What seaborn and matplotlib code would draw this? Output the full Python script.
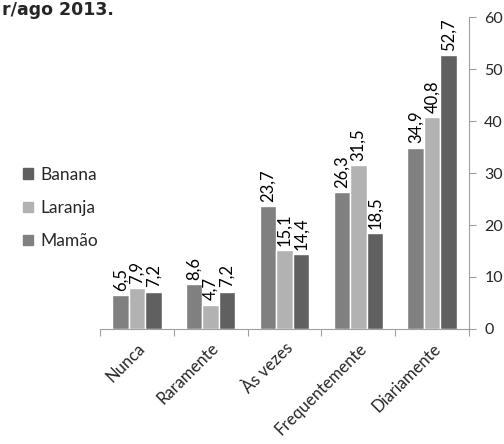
import matplotlib
matplotlib.use("Agg")
import matplotlib.pyplot as plt
import seaborn as sns
import pandas as pd
from matplotlib.ticker import FixedLocator

categories = ["Nunca", "Raramente", "Às vezes", "Frequentemente", "Diariamente"]
mamao = [6.5, 8.6, 23.7, 26.3, 34.9]
laranja = [7.9, 4.7, 15.1, 31.5, 40.8]
banana = [7.2, 7.2, 14.4, 18.5, 52.7]
series_names = ["Mamão", "Laranja", "Banana"]
yticks = [0, 10, 20, 30, 40, 50, 60]

df = pd.DataFrame({
    "categoria": categories * 3,
    "fruta": [series_names[0]] * 5 + [series_names[1]] * 5 + [series_names[2]] * 5,
    "valor": mamao + laranja + banana,
})

sns.set_theme(style="white")
plt.rcParams["font.family"] = ["Lato", "DejaVu Sans"]

colors = {"Mamão": "#808080", "Laranja": "#b2b2b2", "Banana": "#606060"}

fig = plt.figure(figsize=(5.04, 4.44), dpi=100)
ax = fig.add_axes([100 / 504, 1 - 329 / 444, 369 / 504, 312 / 444])

sns.barplot(data=df, x="categoria", y="valor", hue="fruta", order=categories,
            hue_order=series_names, palette=colors, width=0.67, ax=ax,
            saturation=1, legend=False)

for container in ax.containers:
    labels = [f"{v:.1f}".replace(".", ",") for v in container.datavalues]
    ax.bar_label(container, labels=labels, rotation=90, padding=3,
                 fontsize=12, color="black")

ax.set_xlim(-0.5, 4.5)
ax.set_ylim(0, 60)
ax.set_xlabel("")
ax.set_ylabel("")

ax.yaxis.tick_right()
ax.set_yticks(yticks)
ax.tick_params(axis="y", which="major", length=5, width=0.8, color="#a0a0a0",
               labelsize=11.5, pad=6, right=True, left=False)
ax.tick_params(axis="x", which="major", length=0, labelsize=12, pad=8)
ax.xaxis.set_minor_locator(FixedLocator([i - 0.5 for i in range(6)]))
ax.tick_params(axis="x", which="minor", length=5, width=0.8, color="#a0a0a0",
               bottom=True)
plt.setp(ax.get_xticklabels(), rotation=45, ha="right", rotation_mode="anchor")

for side in ["top", "left"]:
    ax.spines[side].set_visible(False)
for side in ["right", "bottom"]:
    ax.spines[side].set_visible(True)
    ax.spines[side].set_color("#a0a0a0")
    ax.spines[side].set_linewidth(0.8)

# legend listed in reverse order of the bars
handles = [plt.Rectangle((0, 0), 1, 1, color=colors[n]) for n in reversed(series_names)]
fig.legend(handles, list(reversed(series_names)), loc="center left",
           bbox_to_anchor=(0.015, 1 - 208 / 444), frameon=False, fontsize=12.5,
           handlelength=0.55, handleheight=0.55, handletextpad=0.45,
           labelspacing=1.0)

fig.text(2 / 504, 1 - 10 / 444, "r/ago 2013.",
         ha="left", va="center", fontsize=12.5, fontweight="bold",
         family="DejaVu Sans")

fig.savefig("out.png", dpi=100)
